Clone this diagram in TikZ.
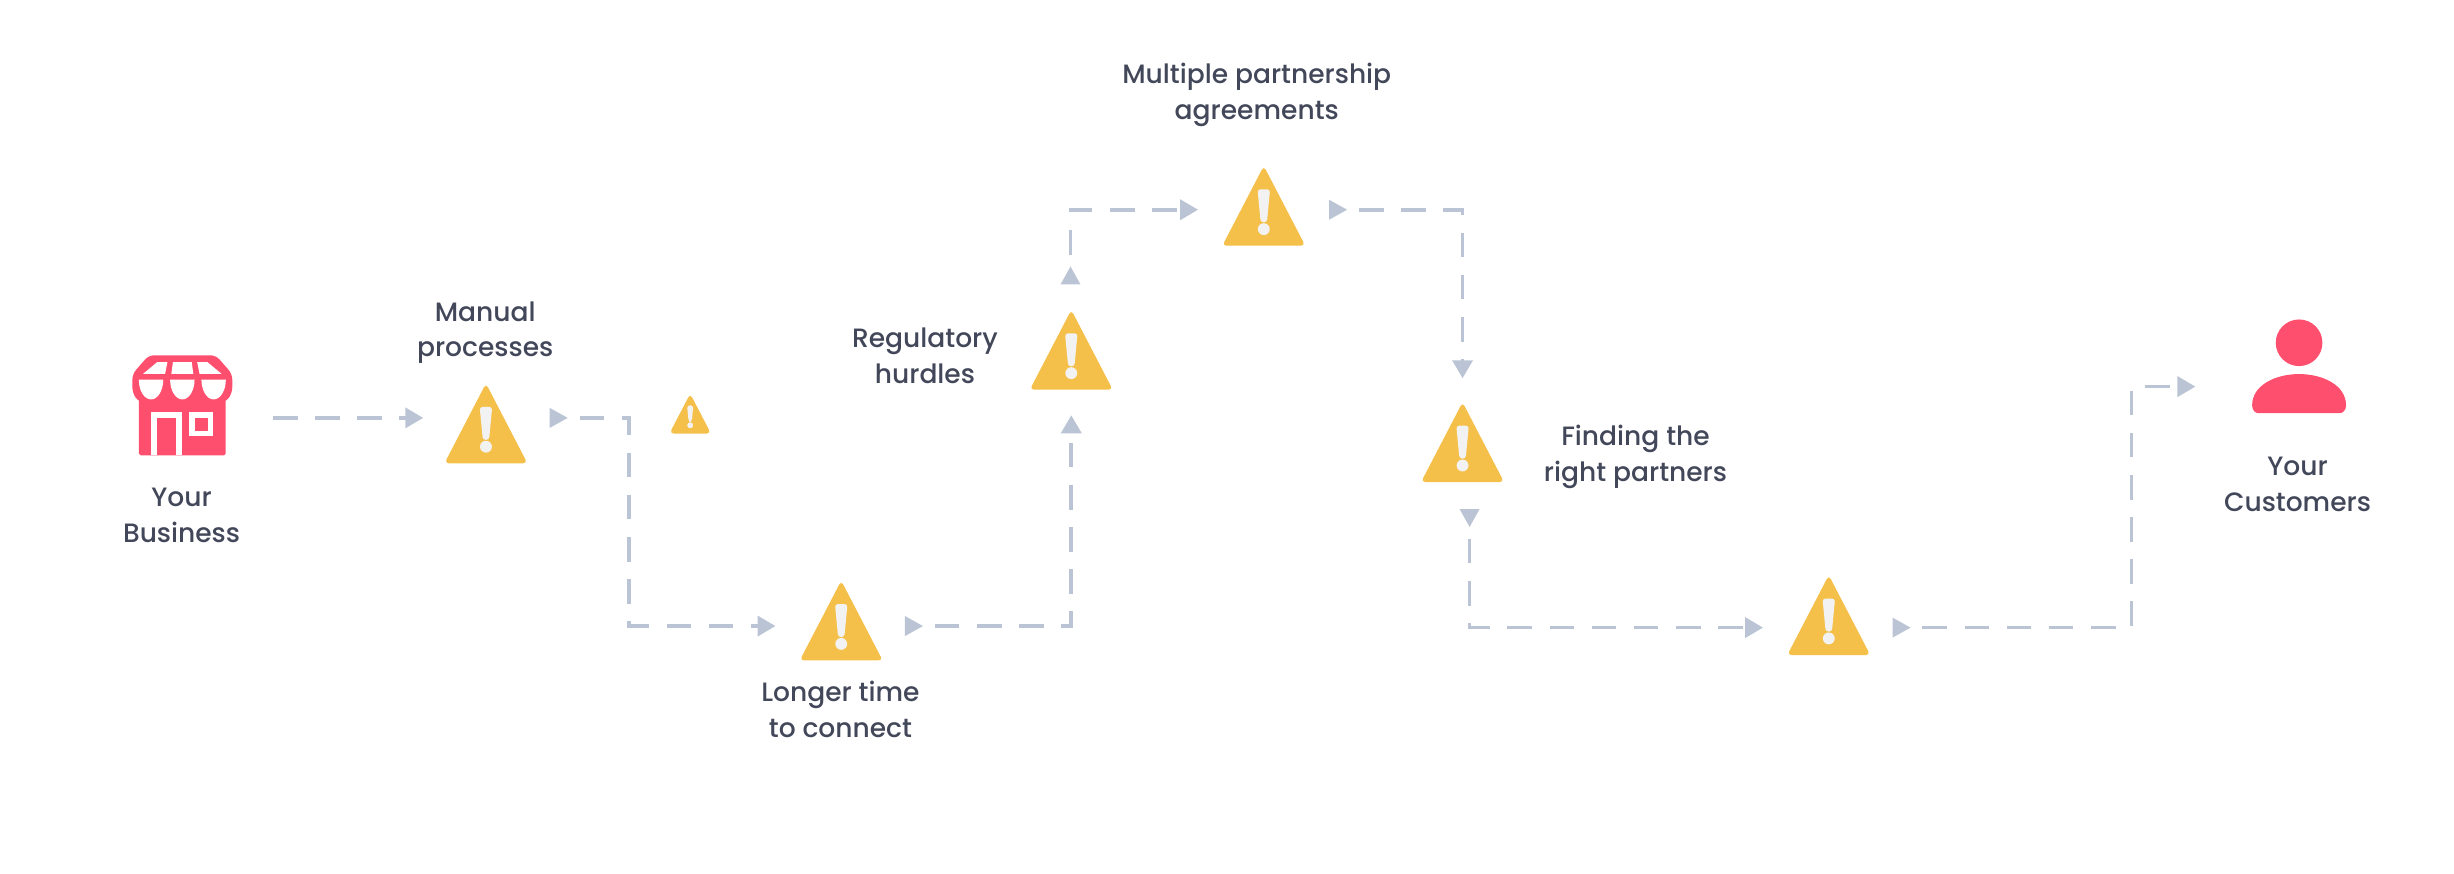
\documentclass[tikz,border=0pt]{standalone}
\usepackage{fontspec}
\setmainfont{Poppins Medium}
\usepackage{xcolor}
\usetikzlibrary{arrows.meta,shapes.geometric,calc}
\definecolor{fpink}{RGB}{255, 79, 110}
\definecolor{fyellow}{RGB}{245, 192, 74}
\definecolor{fslate}{RGB}{186, 196, 212}
\definecolor{fink}{RGB}{66, 71, 89}
\definecolor{fbang}{RGB}{242, 242, 242}
\tikzstyle{flowline} = [line width=1.05pt,dash pattern=on 7pt off 5pt,color=fslate,-{Triangle[length=0.18cm,width=0.2cm]},shorten <=0.1cm,shorten >=0.25cm]
\tikzstyle{flowhead} = [isosceles triangle, isosceles triangle stretches, fill=fslate, inner sep=0pt, minimum height=0.18cm, minimum width=0.2cm]
\tikzstyle{warnbox} = [rectangle, inner sep=0pt, minimum width=0.8cm, minimum height=0.78cm]
\tikzstyle{iconbox} = [rectangle, inner sep=0pt, minimum width=0.94cm, minimum height=1cm]
\tikzstyle{caption} = [align=center, text=fink, font=\fontsize{7.55}{10.2}\selectfont]
\tikzset{
  pics/warnicon/.style={code={
    \fill[fyellow, rounded corners=1.2pt] (0,-26) -- (26.5,25) -- (-26.5,25) -- cycle;
    \fill[fbang, rounded corners=0.8pt] (-4,-11) -- (4,-11) -- (2,10) -- (-2,10) -- cycle;
    \fill[fbang] (0,14.4) circle (3.8);
  }},
  pics/shopicon/.style={code={
    \fill[fpink, rounded corners=1.5pt] (-21.4,-32) -- (21.4,-32) -- (31.9,-20) -- (31.9,-8) -- (27.7,-2) -- (-27.7,-2) -- (-31.9,-8) -- (-31.9,-20) -- cycle;
    \fill[fpink, rounded corners=0.5pt] (-27.7,-5) rectangle (27.7,32);
    % awning
    \fill[white] (-16,-27.7) -- (-9.5,-27.7) -- (-11,-20.2) -- (-25,-20.2) -- cycle;
    \fill[white] (-6,-27.7) -- (6,-27.7) -- (7,-20.2) -- (-7,-20.2) -- cycle;
    \fill[white] (16,-27.7) -- (9.5,-27.7) -- (11,-20.2) -- (25,-20.2) -- cycle;
    \foreach \sx in {-20,0,20}
      \fill[white] (\sx-7.8,-16.4) arc[start angle=180, end angle=0, x radius=7.8, y radius=12.6] -- cycle;
    % door and window
    \fill[white] (-20.1,4.3) rectangle (-0.5,32);
    \fill[fpink] (-16.2,7.9) rectangle (-3.9,32);
    \fill[white] (4.2,4.3) rectangle (19.8,19.8);
    \fill[fpink] (8,7.9) rectangle (16.2,16.5);
  }},
  pics/personicon/.style={code={
    \fill[fpink] (0,-18) circle (14.9);
    \fill[fpink] (-30,22) .. controls (-30,9) and (-15,2) .. (0,2) .. controls (15,2) and (30,9) .. (30,22) .. controls (30,25) and (28,27) .. (26,27) -- (-26,27) .. controls (-28,27) and (-30,25) .. (-30,22) -- cycle;
  }}
}

\begin{document}
\begin{tikzpicture}[x=0.01565cm,y=-0.01565cm]
\useasboundingbox (0,0) rectangle (1568,557.8);

% Shop and customers
\node[iconbox] (shop) at (116.5,259) {};
\pic at (shop) {shopicon};
\node[iconbox] (person) at (1469,237) {};
\pic at (person) {personicon};

% Warning signs
\node[warnbox] (manual) at (310.5,271) {};
\pic at (manual) {warnicon};
\node[warnbox] (minor) at (441,264.5) {};
\pic[scale=0.5] at (minor) {warnicon};
\node[warnbox] (longer) at (537.5,397) {};
\pic at (longer) {warnicon};
\node[warnbox] (hurdles) at (684.5,224) {};
\pic at (hurdles) {warnicon};
\node[warnbox] (agree) at (807.5,132) {};
\pic at (agree) {warnicon};
\node[warnbox] (partners) at (934.5,283) {};
\pic at (partners) {warnicon};
\node[warnbox] (last) at (1168.5,393.5) {};
\pic at (last) {warnicon};

% Captions
\node[caption] (shoptext) at (116,329.5) {Your\\Business};
\node[caption] (manualtext) at (310,212.5) {Manual\\processes};
\node[caption] (longertext) at (537,453.5) {Longer time\\to connect};
\node[caption] (hurdlestext) at (591,227.5) {Regulatory\\hurdles};
\node[caption] (agreetext) at (803,60.5) {Multiple partnership\\agreements};
\node[caption] (partnerstext) at (1045,292) {Finding the\\right partners};
\node[caption] (persontext) at (1468,309.5) {Your\\Customers};

% Heads that leave each sign
\node[flowhead] (h1) at (355,267) {};
\node[flowhead] (h2) at (582,400) {};
\node[flowhead, shape border rotate=90] (h3) at (684,178) {};
\node[flowhead] (h4) at (853,134) {};
\node[flowhead, shape border rotate=-90] (h5) at (939,329) {};
\node[flowhead] (h6) at (1213,401) {};

\coordinate (a1) at (168,267);
\coordinate (c1) at (402,400);
\coordinate (c6) at (1362,247);

% Arrows
\draw[flowline, shorten >=0.22cm] (a1) -- (a1 -| manual.west);
\draw[flowline] (h1.east) -| (c1) -- (c1 -| longer.west);
\draw[flowline] (h2.east) -| (hurdles.south);
\draw[flowline] (h3.north) |- (h4 -| agree.west);
\draw[flowline] (h4.east) -| (partners.north);
\draw[flowline] (h5.south) |- (h6 -| last.west);
\draw[flowline, shorten >=0.56cm] (h6.east) -| (c6) -- (c6 -| person.west);
\end{tikzpicture}
\end{document}
